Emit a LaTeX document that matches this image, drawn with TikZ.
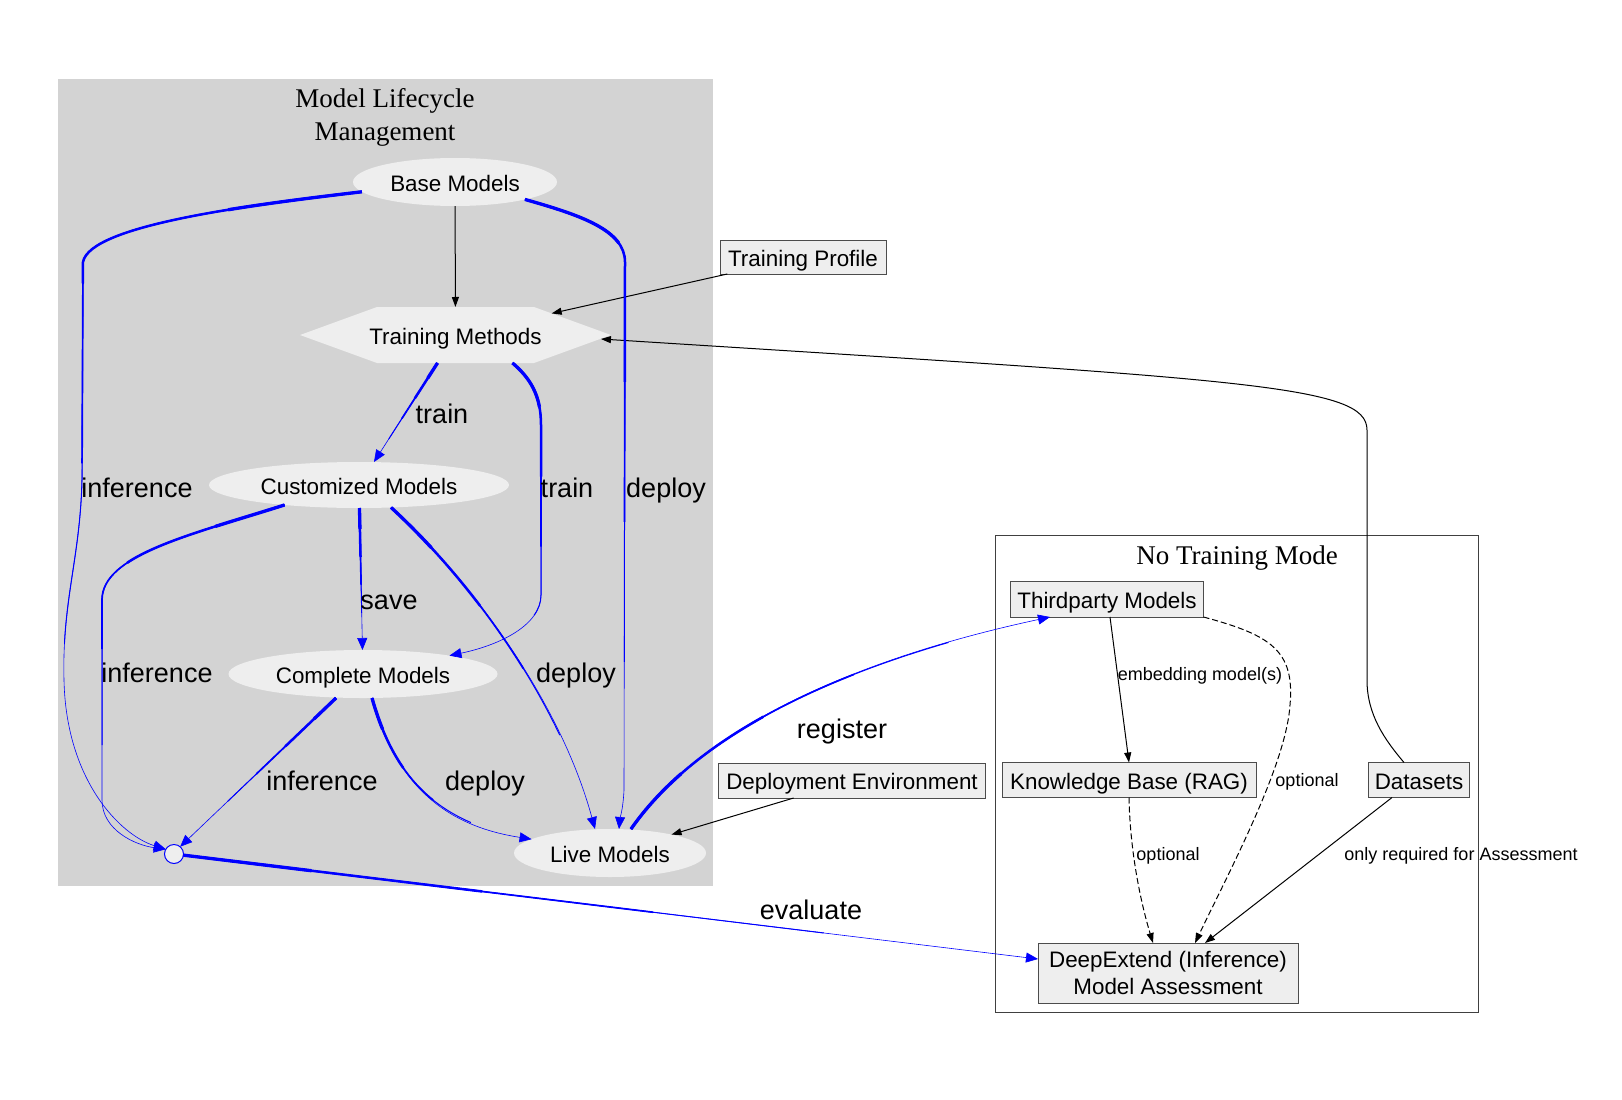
\documentclass[tikz,border=0pt]{standalone}
\usepackage{fontspec}
\setmainfont{Liberation Sans}
\newfontfamily\serifT{Liberation Serif}
\usetikzlibrary{shapes.geometric,shapes.symbols,arrows.meta,calc}
\definecolor{nodegray}{RGB}{238,238,238}
\definecolor{clustergray}{RGB}{211,211,211}
\definecolor{gvblue}{RGB}{0,0,255}
\begin{document}
\begin{tikzpicture}[x=1pt,y=-1pt,
  every node/.style={inner sep=0pt, outer sep=0pt},
  nfont/.style={font=\fontsize{22.4}{27}\selectfont},
  fixed/.style={text height=18.5pt, text depth=0pt},
  ell/.style={ellipse, fill=nodegray, nfont, fixed},
  boxb/.style={rectangle, draw=black!70, line width=1pt, fill=nodegray, nfont, align=center},
  box/.style={boxb, fixed},
  elab/.style={font=\fontsize{27}{30}\selectfont, anchor=base},
  slab/.style={font=\fontsize{18}{21}\selectfont, anchor=base},
  ttl/.style={font=\serifT\fontsize{27}{33}\selectfont, align=center},
  blk/.style={draw=black, line width=1pt, -{Triangle[length=10pt,width=7pt]}},
  dsh/.style={blk, dash pattern=on 6pt off 3pt},
  taper/.style={draw=gvblue, line width=0.6pt, -{Triangle[length=12pt,width=10pt]},
    preaction={draw=gvblue, arrows=-, line width=3.3pt, dash pattern=on #1*0.15 off 15000pt},
    preaction={draw=gvblue, arrows=-, line width=2.5pt, dash pattern=on #1*0.35 off 15000pt},
    preaction={draw=gvblue, arrows=-, line width=1.7pt, dash pattern=on #1*0.55 off 15000pt},
    preaction={draw=gvblue, arrows=-, line width=1pt, dash pattern=on #1*0.75 off 15000pt}}
]
\useasboundingbox[fill=white] (0,0) rectangle (1622,1100);
% clusters
\fill[clustergray] (58,79) rectangle (713,886);
\draw[black!75, line width=1pt] (995,535) rectangle (1478,1012);
\node[ttl] (t1) at (385,117) {Model Lifecycle\\Management};
\node[ttl] (t2) at (1237,558) {No Training Mode};
% nodes
\node[ell, minimum width=204, minimum height=48] (base) at (455,182) {Base Models};
\node[signal, signal to=east and west, signal pointer angle=40, fill=nodegray, nfont, fixed,
      minimum height=56] (tm) at (455.5,335) {\makebox[157pt][c]{Training Methods}};
\node[ell, minimum width=300, minimum height=46] (cust) at (359,485) {Customized Models};
\node[ell, minimum width=269, minimum height=48] (comp) at (363,674) {Complete Models};
\node[ell, minimum width=192, minimum height=48] (live) at (610,853) {Live Models};
\node[circle, draw=gvblue, line width=1pt, fill=nodegray, minimum size=19] (circ) at (174,854) {};
\node[box, minimum width=166, minimum height=34] (tprof) at (803,257) {Training Profile};
\node[box, minimum width=267, minimum height=35] (denv) at (852,780.5) {Deployment Environment};
\node[box, minimum width=193, minimum height=36] (tp3) at (1107,599) {Thirdparty Models};
\node[box, minimum width=254, minimum height=35] (kb) at (1129,780) {Knowledge Base (RAG)};
\node[box, minimum width=101, minimum height=35] (ds) at (1419,780) {Datasets};
\node[boxb, minimum width=260, minimum height=60] (de) at (1168,973) {DeepExtend (Inference)\\Model Assessment};
% black edges
\draw[blk] (base) -- (tm);
\draw[blk] (tprof) -- (tm);
\draw[blk] ([xshift=-15pt]ds.north) .. controls (1385,740) and (1367,715) .. (1367,680) -- (1367,430)
   .. controls (1367,385) and (1250,380) .. ([xshift=-10pt,yshift=-4pt]tm.east);
\draw[blk] (denv) -- (live);
\draw[blk] ([xshift=3pt]tp3.south) -- (kb.north);
\draw[dsh] (tp3.south east) .. controls (1270,635) and (1295,650) .. (1290,705)
   .. controls (1286,765) and (1230,870) .. ([xshift=27pt]de.north);
\draw[dsh] (kb.south) .. controls (1130,850) and (1140,900) .. ([xshift=-15pt]de.north);
\draw[blk] ([xshift=-27pt]ds.south) -- ([xshift=37pt]de.north);
% blue edges
\draw[taper=900] (base.186) .. controls (250,205) and (90,225) .. (83,262) -- (82,480)
   .. controls (80,560) and (62,600) .. (64,680) .. controls (66,780) and (120,835) .. (circ.150);
\draw[taper=700] (base.-14) .. controls (580,215) and (625,230) .. (625,262) -- (624,790)
   .. controls (623,810) and (620,818) .. ([xshift=9pt]live.north);
\draw[taper=120] ([xshift=-18pt]tm.south) -- ([xshift=15pt]cust.north);
\draw[taper=350] ([xshift=57pt]tm.south) .. controls (530,378) and (541,395) .. (541,425) -- (541,595)
   .. controls (541,625) and (500,645) .. (comp.12);
\draw[taper=140] (cust) -- (comp);
\draw[taper=480] (cust.195) .. controls (190,535) and (102,555) .. (102,600) -- (102,800)
   .. controls (102,830) and (135,845) .. (circ.150);
\draw[taper=380] (cust.-35) .. controls (470,580) and (560,700) .. ([xshift=-15pt]live.north);
\draw[taper=200] ([xshift=-27pt]comp.south) -- (circ.50);
\draw[taper=220] ([xshift=9pt]comp.south) .. controls (395,780) and (440,825) .. (live.170);
\draw[taper=500] ([xshift=21pt]live.north) .. controls (700,730) and (850,660) .. ([xshift=-57pt]tp3.south);
\draw[taper=860] (circ) -- ([yshift=14pt]de.west);
% edge labels
\node[elab] (l1) at (442,423) {train};
\node[elab] (l2) at (137,497) {inference};
\node[elab] (l3) at (567,497) {train};
\node[elab] (l4) at (666,497) {deploy};
\node[elab] (l5) at (389,609) {save};
\node[elab] (l6) at (157,682) {inference};
\node[elab] (l7) at (576,682) {deploy};
\node[elab] (l8) at (842,738) {register};
\node[elab] (l9) at (322,790) {inference};
\node[elab] (l10) at (485,790) {deploy};
\node[elab] (l11) at (811,919) {evaluate};
\node[slab] (l12) at (1200,680) {embedding model(s)};
\node[slab] (l13) at (1307,786) {optional};
\node[slab] (l14) at (1168,860) {optional};
\node[slab] (l15) at (1461,860) {only required for Assessment};
\end{tikzpicture}
\end{document}
